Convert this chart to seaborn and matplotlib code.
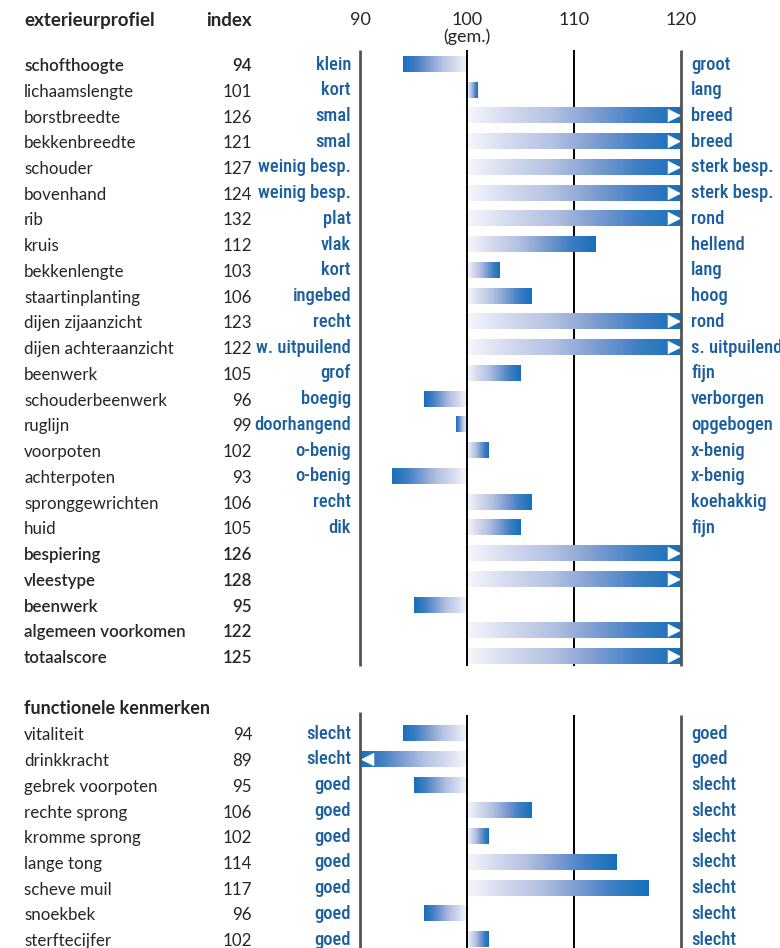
import numpy as np
import pandas as pd
import matplotlib
matplotlib.use("Agg")
import matplotlib.pyplot as plt
import seaborn as sns
from matplotlib.colors import LinearSegmentedColormap
from matplotlib import font_manager

# --- DATA ---
ext_traits = ["schofthoogte", "lichaamslengte", "borstbreedte", "bekkenbreedte",
              "schouder", "bovenhand", "rib", "kruis", "bekkenlengte",
              "staartinplanting", "dijen zijaanzicht", "dijen achteraanzicht",
              "beenwerk", "schouderbeenwerk", "ruglijn", "voorpoten", "achterpoten",
              "spronggewrichten", "huid", "bespiering", "vleestype", "beenwerk",
              "algemeen voorkomen", "totaalscore"]
ext_index = [94, 101, 126, 121, 127, 124, 132, 112, 103, 106, 123, 122, 105,
             96, 99, 102, 93, 106, 105, 126, 128, 95, 122, 125]
ext_low = ["klein", "kort", "smal", "smal", "weinig besp.", "weinig besp.", "plat",
           "vlak", "kort", "ingebed", "recht", "w. uitpuilend", "grof", "boegig",
           "doorhangend", "o-benig", "o-benig", "recht", "dik", "", "", "", "", ""]
ext_high = ["groot", "lang", "breed", "breed", "sterk besp.", "sterk besp.", "rond",
            "hellend", "lang", "hoog", "rond", "s. uitpuilend", "fijn", "verborgen",
            "opgebogen", "x-benig", "x-benig", "koehakkig", "fijn", "", "", "", "", ""]

func_traits = ["vitaliteit", "drinkkracht", "gebrek voorpoten", "rechte sprong",
               "kromme sprong", "lange tong", "scheve muil", "snoekbek", "sterftecijfer"]
func_index = [94, 89, 95, 106, 102, 114, 117, 96, 102]
func_low = ["slecht", "slecht", "goed", "goed", "goed", "goed", "goed", "goed", "goed"]
func_high = ["goed", "goed", "slecht", "slecht", "slecht", "slecht", "slecht", "slecht", "slecht"]

scale_ticks = [90, 100, 110, 120]
scale_min, scale_max, mean_val = 90, 120, 100

# --- STYLE / LAYOUT ---
sns.set_theme(style="white")
avail = {f.name for f in font_manager.fontManager.ttflist}
narrow = next((f for f in ["Liberation Sans Narrow", "Roboto Condensed",
                           "Open Sans Condensed", "Roboto"] if f in avail), "DejaVu Sans")
plt.rcParams['font.family'] = ['Lato', 'DejaVu Sans']

BLUE_TXT = "#1b5f9e"
bold_ext = [0, 19, 20, 21, 22, 23]
LABEL_FS = 12.2
BLUE_FS = 13.3

PX_PER_UNIT = 10.7
X100_PX = 467
ROW0_PX, ROW_PX = 64, 25.74


def px2x(px):
    return (px - X100_PX) / PX_PER_UNIT


def px2r(py):
    return (py - ROW0_PX) / ROW_PX


ext_rows = np.arange(len(ext_traits))
func_header_row = len(ext_traits) + 1
func_rows = func_header_row + 1 + np.arange(len(func_traits))

all_rows = np.concatenate([ext_rows, func_rows])
all_index = np.array(ext_index + func_index)
df = pd.DataFrame({
    "row": all_rows,
    "dev": np.clip(all_index, scale_min, scale_max) - mean_val,
})

fig = plt.figure(figsize=(7.8, 9.48), dpi=100)
ax = fig.add_axes([0, 0, 1, 1])

sns.barplot(data=df, x="dev", y="row", orient="y", native_scale=True,
            width=0.62, errorbar=None, color="#1670bb", linewidth=0, ax=ax)

# gradient fill for each bar (light at 100, dark at the value end)
cmap = LinearSegmentedColormap.from_list(
    "bar", ["#f6f6fb", "#d3d9ee", "#b3c1e2", "#7d9dd1", "#3f7fc5", "#1670bb"])
grad = np.linspace(0, 1, 256).reshape(1, -1)
for p in list(ax.patches):
    x0, y0, w, h = p.get_x(), p.get_y(), p.get_width(), p.get_height()
    p.set_facecolor("none")
    ax.imshow(grad, cmap=cmap, aspect="auto", interpolation="bilinear",
              extent=[x0, x0 + w, y0 + h, y0], zorder=2)

# arrows for values out of the scale
over = df[df["dev"] >= scale_max - mean_val]
under = df[df["dev"] <= scale_min - mean_val]
ax.scatter(over["dev"] - 0.7, over["row"], marker=">", s=95, color="white",
           linewidths=0, zorder=3)
ax.scatter(under["dev"] + 0.7, under["row"], marker="<", s=95, color="white",
           linewidths=0, zorder=3)

# reference lines
top0, top1 = px2r(50), px2r(666)
bot0, bot1 = px2r(715), px2r(960)
for t in scale_ticks:
    dark = t in (scale_min, scale_max)
    col = "#555555" if dark else "black"
    lw = 2.0 if dark else 1.4
    z = 4 if t != 110 else 1
    ax.vlines(t - mean_val, top0, top1, color=col, lw=lw, zorder=z)
    ax.vlines(t - mean_val, px2r(712) if t == scale_min else bot0, bot1,
              color=col, lw=lw, zorder=z)

# header
hy = px2r(20)
ax.text(px2x(24), hy, "exterieurprofiel", fontsize=13.5, fontweight="bold",
        va="center", ha="left")
ax.text(px2x(252), hy, "index", fontsize=13.5, fontweight="bold", va="center", ha="right")
for t in scale_ticks:
    ax.text(t - mean_val, hy, str(t), fontsize=13, va="center", ha="center")
ax.text(0, px2r(37), "(gem.)", fontsize=13, va="center", ha="center")


# text columns
def row_texts(rows, names, idx, low, high, bold):
    for i, r in enumerate(rows):
        fw = "semibold" if i in bold else "normal"
        ax.text(px2x(24), r + 0.08, names[i], fontsize=LABEL_FS, fontweight=fw,
                va="center", ha="left")
        ax.text(px2x(252), r + 0.08, str(idx[i]), fontsize=LABEL_FS, fontweight=fw,
                va="center", ha="right")
        ax.text(px2x(351), r + 0.02, low[i], fontsize=BLUE_FS, color=BLUE_TXT,
                fontweight="medium", family=[narrow, "DejaVu Sans"],
                va="center", ha="right")
        ax.text(px2x(691), r + 0.02, high[i], fontsize=BLUE_FS, color=BLUE_TXT,
                fontweight="medium", family=[narrow, "DejaVu Sans"],
                va="center", ha="left")


row_texts(ext_rows, ext_traits, ext_index, ext_low, ext_high, bold_ext)
ax.text(px2x(24), func_header_row + 0.05, "functionele kenmerken", fontsize=13,
        fontweight="bold", va="center", ha="left")
row_texts(func_rows, func_traits, func_index, func_low, func_high, [])

ax.set_xlim(px2x(0), px2x(780))
ax.set_ylim(px2r(948), px2r(0))
ax.axis("off")

fig.savefig("out.png", dpi=100)
